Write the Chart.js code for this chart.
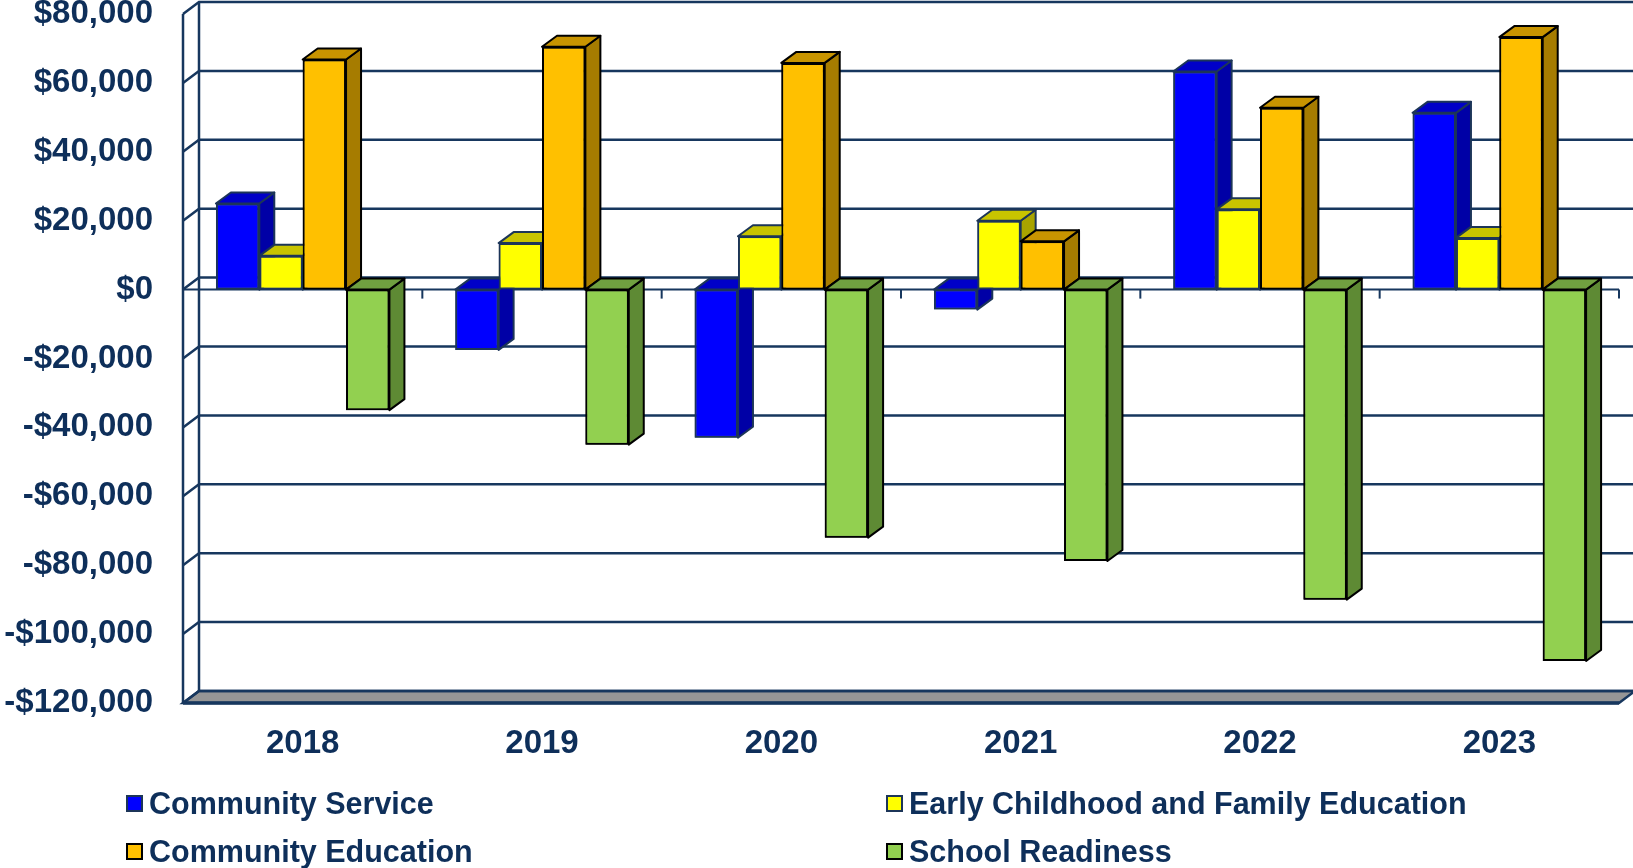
<!DOCTYPE html>
<html lang="en">
<head>
  <meta charset="UTF-8">
  <title>Program balances 2018-2023</title>
  <script src="https://cdn.jsdelivr.net/npm/chart.js"></script>
  <style>
    html, body {
      margin: 0;
      padding: 0;
      background-color: #FFFFFF;
    }

    body {
      font-family: "Liberation Sans", Arial, sans-serif;
      color: #0E2F5A;
    }

    #wrap {
      position: relative;
      width: 1633px;
      height: 868px;
      overflow: hidden;
    }

    .item {
      position: absolute;
      height: 30px;
      font-size: 30.5px;
      font-weight: bold;
      line-height: 30px;
      white-space: nowrap;
    }

    .item .box {
      position: absolute;
      left: 0;
      top: 6.5px;
      width: 17px;
      height: 17px;
      box-sizing: border-box;
      border: 2px solid #000;
    }

    .item .txt {
      position: absolute;
      left: 23px;
      top: 0;
    }
  </style>
</head>
<body>

<div id="wrap">
  <canvas id="balanceChart" width="1633" height="868"></canvas>
  <!-- leyenda en dos columnas, como en el original -->
  <div id="legend"></div>
</div>

<script>
  // datos
  const years = ['2018', '2019', '2020', '2021', '2022', '2023'];
  const communityService = [25000, -17500, -43000, -5800, 63300, 51300];
  const earlyChildhood = [9800, 13500, 15500, 20000, 23300, 15000];
  const communityEducation = [66800, 70500, 65800, 14000, 52800, 73300];
  const schoolReadiness = [-35000, -45000, -72000, -78800, -90000, -107800];
  const seriesNames = ['Community Service', 'Early Childhood and Family Education', 'Community Education', 'School Readiness'];
  const yMin = -120000;
  const yMax = 80000;
  const yStep = 20000;

  const TEXTO = '#0E2F5A';
  const LINEA = '#17375E';

  // colores de cada serie: cara frontal, tapa, lateral y borde
  const caras = [
    { front: '#0000FF', top: '#0000C8', side: '#0000A6', line: '#1C3558' },
    { front: '#FFFF00', top: '#C8C400', side: '#A8A400', line: '#1C3558' },
    { front: '#FFC000', top: '#C89400', side: '#A67C00', line: '#000000' },
    { front: '#92D050', top: '#70A040', side: '#5E8A34', line: '#000000' }
  ];

  const DX = 16, DY = 12;   // fondo de las paredes
  const BX = 15, BY = 11;   // fondo de las barras

  function line(ctx, pts) {
    ctx.beginPath();
    ctx.moveTo(pts[0][0], pts[0][1]);
    for (let i = 1; i < pts.length; i++) ctx.lineTo(pts[i][0], pts[i][1]);
    ctx.stroke();
  }

  function poly(ctx, pts, fill, stroke) {
    ctx.beginPath();
    ctx.moveTo(pts[0][0], pts[0][1]);
    for (let i = 1; i < pts.length; i++) ctx.lineTo(pts[i][0], pts[i][1]);
    ctx.closePath();
    ctx.fillStyle = fill;
    ctx.fill();
    ctx.strokeStyle = stroke;
    ctx.stroke();
  }

  const caja3d = {
    id: 'caja3d',
    beforeDatasetsDraw(chart) {
      const { ctx, chartArea: a, scales: { x, y } } = chart;
      const yb = y.getPixelForValue(yMin);
      const y0 = y.getPixelForValue(0);
      ctx.save();
      ctx.lineWidth = 2.5;
      ctx.lineJoin = 'miter';

      // piso gris
      poly(ctx, [[a.left, yb], [a.left + DX, yb - DY], [a.right + DX, yb - DY], [a.right, yb]], '#969696', LINEA);

      // lineas de la pared del fondo y diagonales de la pared izquierda
      ctx.strokeStyle = LINEA;
      y.ticks.forEach(t => {
        const py = y.getPixelForValue(t.value);
        line(ctx, [[a.left, py], [a.left + DX, py - DY], [a.right + DX, py - DY]]);
      });

      // verticales de la pared izquierda
      line(ctx, [[a.left, y.getPixelForValue(yMax)], [a.left, yb]]);
      line(ctx, [[a.left + DX, y.getPixelForValue(yMax) - DY], [a.left + DX, yb - DY]]);

      // eje cero delantero con marcas entre categorias
      ctx.lineWidth = 2;
      line(ctx, [[a.left, y0], [a.right, y0]]);
      for (let i = 0; i < years.length; i++) {
        const bx = i < years.length - 1 ? (x.getPixelForTick(i) + x.getPixelForTick(i + 1)) / 2 : a.right;
        line(ctx, [[bx, y0], [bx, y0 + 9]]);
      }

      // borde delantero del piso
      ctx.lineWidth = 3.5;
      line(ctx, [[a.left, yb], [a.right, yb]]);
      ctx.restore();
    },
    afterDatasetsDraw(chart) {
      const ctx = chart.ctx;
      const metas = chart.getSortedVisibleDatasetMetas().slice().sort((m, n) => m.index - n.index);
      ctx.save();
      ctx.lineWidth = 2;
      ctx.lineJoin = 'round';
      // de izquierda a derecha en cada grupo, para que cada barra tape a la anterior
      for (let i = 0; i < years.length; i++) {
        metas.forEach(meta => {
          const el = meta.data[i];
          const c = caras[meta.index];
          const p = el.getProps(['x', 'y', 'base', 'width'], true);
          const left = p.x - p.width / 2;
          const right = p.x + p.width / 2;
          const top = Math.min(p.y, p.base);
          const bot = Math.max(p.y, p.base);
          poly(ctx, [[right, top], [right + BX, top - BY], [right + BX, bot - BY], [right, bot]], c.side, c.line);
          poly(ctx, [[left, top], [left + BX, top - BY], [right + BX, top - BY], [right, top]], c.top, c.line);
          el.draw(ctx);
        });
      }
      ctx.restore();
    }
  };

  const series = [communityService, earlyChildhood, communityEducation, schoolReadiness];

  const ctx = document.getElementById('balanceChart').getContext('2d');
  const chart = new Chart(ctx, {
    type: 'bar',
    data: {
      labels: years,
      datasets: series.map((vals, k) => ({
        label: seriesNames[k],
        data: vals,
        backgroundColor: caras[k].front,
        borderColor: caras[k].line,
        borderWidth: 2,
        borderSkipped: false,
        categoryPercentage: 0.725,
        barPercentage: 1.0
      }))
    },
    options: {
      responsive: false,
      animation: false,
      events: [],
      layout: {
        padding: { top: 14, right: 14, bottom: 105, left: 0 }
      },
      scales: {
        x: {
          grid: { display: false, drawTicks: false },
          border: { display: false },
          ticks: {
            color: TEXTO,
            padding: 21,
            font: { family: "'Liberation Sans', Arial, sans-serif", size: 33, weight: 'bold' }
          },
          afterFit(scale) {
            scale.height = 60;
            scale.paddingLeft = 0;
            scale.paddingRight = 0;
          }
        },
        y: {
          min: yMin,
          max: yMax,
          grid: { display: false, drawTicks: false },
          border: { display: false },
          ticks: {
            stepSize: yStep,
            color: TEXTO,
            padding: 30,
            font: { family: "'Liberation Sans', Arial, sans-serif", size: 33, weight: 'bold' },
            callback: v => (v < 0 ? '-' : '') + '$' + Math.abs(v).toLocaleString('en-US')
          },
          afterFit(scale) {
            scale.width = 183;
            scale.paddingTop = 0;
            scale.paddingBottom = 0;
          }
        }
      },
      plugins: {
        legend: { display: false },
        tooltip: { enabled: false }
      }
    },
    plugins: [caja3d]
  });

  // leyenda en html: dos columnas, dos filas
  const posLeyenda = [[126, 788], [886, 788], [126, 836], [886, 836]];
  const legend = document.getElementById('legend');
  chart.data.datasets.forEach((ds, k) => {
    const item = document.createElement('div');
    item.className = 'item';
    item.style.left = posLeyenda[k][0] + 'px';
    item.style.top = posLeyenda[k][1] + 'px';
    item.innerHTML = '<span class="box" style="background:' + ds.backgroundColor + ';border-color:' + ds.borderColor + '"></span>' +
      '<span class="txt">' + ds.label + '</span>';
    legend.appendChild(item);
  });
</script>

</body>
</html>
